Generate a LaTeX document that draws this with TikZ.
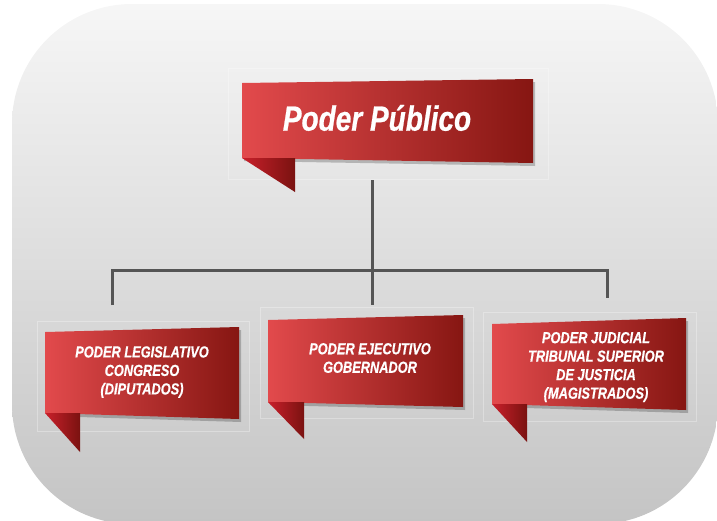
\documentclass[tikz,border=0pt]{standalone}
\usepackage{fontspec}
\newfontfamily\ribbonfont[FakeStretch=0.8, BoldItalicFeatures={FakeBold=0.6}]{Liberation Sans}
\usetikzlibrary{shadows}

\definecolor{bgtop}{HTML}{F6F6F6}
\definecolor{bgbottom}{HTML}{C4C4C4}
\definecolor{ribbonlight}{HTML}{E24A4C}
\definecolor{ribbonmid}{HTML}{B91822}
\definecolor{ribbondark}{HTML}{861612}
\definecolor{foldlight}{HTML}{C9202B}
\definecolor{folddark}{HTML}{7A1210}
\definecolor{linegray}{HTML}{555555}

\begin{document}
\begin{tikzpicture}[
    x=1pt, y=-1pt,
    ribbon/.style={left color=ribbonlight, middle color=ribbonmid, right color=ribbondark,
        drop shadow={shadow xshift=2pt, shadow yshift=-3pt, opacity=0.22, fill=black}},
    fold/.style={left color=foldlight, right color=folddark},
    ghost/.style={draw=white, opacity=0.3, line width=0.6pt},
    boxtext/.style={text=white, align=center, font=\ribbonfont\bfseries\itshape\fontsize{16}{18.5}\selectfont},
    conn/.style={draw=linegray, line width=3pt}
]
    \useasboundingbox (0,0) rectangle (717,520);

    % Background panel
    \path[top color=bgtop, bottom color=bgbottom, rounded corners=120pt] (12,4) rectangle (718,524);

    % Faint frames
    \draw[ghost] (228,68) rectangle (548,179);
    \draw[ghost] (37,321) rectangle (249,431);
    \draw[ghost] (260,307) rectangle (473,418);
    \draw[ghost] (483,312) rectangle (696,421);

    % Connector points
    \coordinate (ppbot) at (372,180);
    \coordinate (legtop) at (112,305);
    \coordinate (ejetop) at (372,305);
    \coordinate (judtop) at (607,298);

    % Connectors
    \draw[conn] (ppbot) -- (ejetop);
    \draw[conn] (legtop) -- ++(0,-35) -| (judtop);

    % Top ribbon
    \path[ribbon] (242,83) -- (533,79) -- (533,163) -- (242,158) -- cycle;
    \path[fold] (242,158) -- (295,158) -- (295,192) -- cycle;
    \node[boxtext, font=\ribbonfont\bfseries\itshape\fontsize{35}{40}\selectfont] (pp) at (377,118) {Poder Público};

    % Three branches
    \path[ribbon] (45,332) -- (239,327) -- (239,419) -- (45,413) -- cycle;
    \path[fold] (45,413) -- (80,413) -- (80,452) -- cycle;
    \node[boxtext] (leg) at (142,372) {PODER LEGISLATIVO\\CONGRESO\\(DIPUTADOS)};

    \path[ribbon] (268,320) -- (463,315) -- (463,407) -- (268,402) -- cycle;
    \path[fold] (268,402) -- (304,402) -- (304,439) -- cycle;
    \node[boxtext] (eje) at (370,358) {PODER EJECUTIVO\\GOBERNADOR};

    \path[ribbon] (492,324) -- (686,318) -- (686,410) -- (492,404) -- cycle;
    \path[fold] (492,404) -- (527,404) -- (527,442) -- cycle;
    \node[boxtext] (jud) at (596,367) {PODER JUDICIAL\\TRIBUNAL SUPERIOR\\DE JUSTICIA\\(MAGISTRADOS)};
\end{tikzpicture}
\end{document}
